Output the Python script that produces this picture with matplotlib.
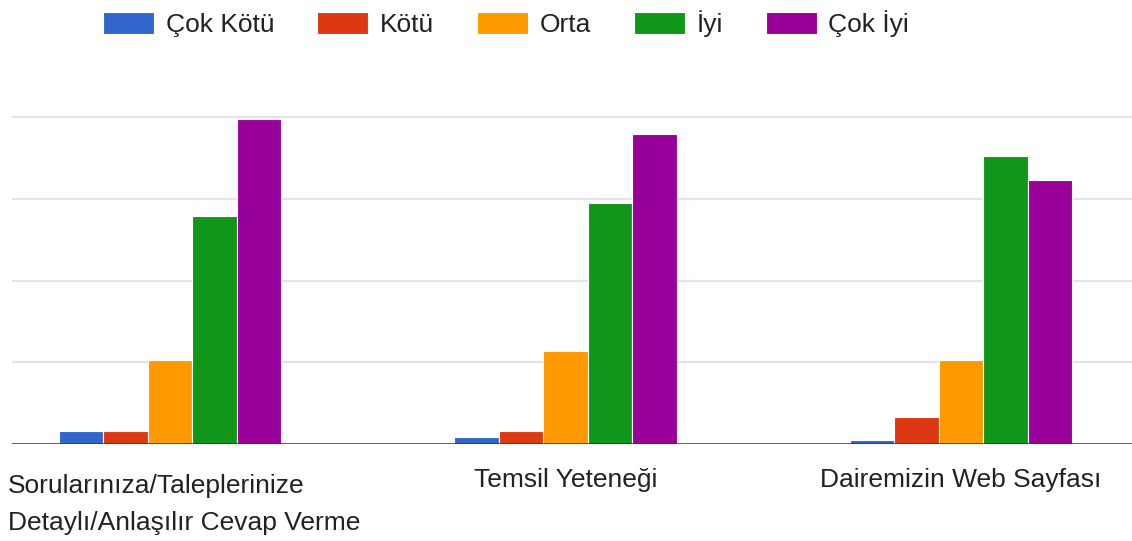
import matplotlib
matplotlib.use('Agg')
from matplotlib import pyplot
from matplotlib.transforms import blended_transform_factory, offset_copy

pyplot.rcParams['font.family'] = ['Liberation Sans', 'DejaVu Sans']

# data (gridline step = 10)
groups = ['Sorularınıza/Taleplerinize\nDetaylı/Anlaşılır Cevap Verme',
          'Temsil Yeteneği',
          'Dairemizin Web Sayfası']
series = ['Çok Kötü', 'Kötü', 'Orta', 'İyi', 'Çok İyi']
cok_kotu = [1.63, 0.81, 0.54]
kotu = [1.63, 1.63, 3.3]
orta = [10.3, 11.35, 10.3]
iyi = [27.9, 29.5, 35.2]
cok_iyi = [39.7, 37.9, 32.3]
colors = ['#3366cc', '#dc3912', '#ff9900', '#109618', '#990099']

W, H = 1132, 541
fig = pyplot.figure(figsize=(W/100., H/100.), dpi=100)
ax = fig.add_axes([12./W, 1-444./H, (W-12.)/W, 344./H])

values = [cok_kotu, kotu, orta, iyi, cok_iyi]
step = 0.1125
handles = []
for i, (name, v) in enumerate(zip(series, values)):
    xs = [g + (i-2)*step for g in range(len(groups))]
    b = ax.bar(xs, v, width=step, color=colors[i], edgecolor='white',
               linewidth=0.8, label=name, zorder=3)
    handles.append(b)

ax.set_xlim(-0.3995, 2.432)
ax.set_ylim(0, 42.08)
for y in [10, 20, 30, 40]:
    ax.axhline(y, color='#e4e4e4', lw=1.6, zorder=1)
ax.axhline(0, color='#333333', lw=1.8, zorder=4)
for s in ax.spines.values():
    s.set_visible(False)
ax.set_xticks([])
ax.set_yticks([])

# category labels
tr = blended_transform_factory(ax.transData, ax.transAxes)
for k, g in enumerate(groups):
    lines = g.split('\n')
    if len(lines) == 1:
        t = offset_copy(tr, fig=fig, x=0, y=-43, units='dots')
        ax.text(k, 0, g, transform=t, ha='center', va='baseline',
                fontsize=19, color='#222222')
    else:
        for j, ln in enumerate(lines):
            ax.text(8./W, 1-(493.+37*j)/H, ln, transform=fig.transFigure,
                    ha='left', va='baseline', fontsize=19, color='#222222')

fig.legend(handles, series, loc='center left',
           bbox_to_anchor=(103./W, 1-24./H), ncol=5, frameon=False,
           fontsize=19, handlelength=1.93, handleheight=0.9,
           handletextpad=0.45, columnspacing=1.62, borderpad=0,
           borderaxespad=0, labelcolor='#222222')

fig.savefig('out.png', dpi=100)
